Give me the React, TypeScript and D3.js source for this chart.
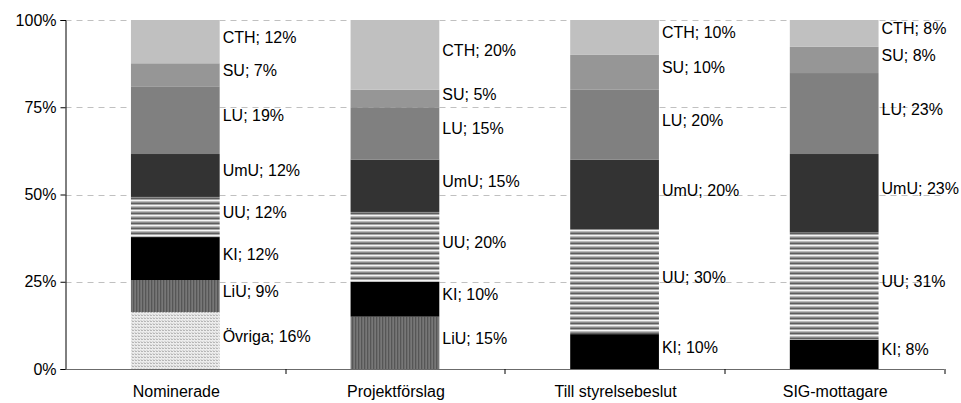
import { useEffect, useRef } from 'react';
import * as d3 from 'd3';

const categories = ['Nominerade', 'Projektförslag', 'Till styrelsebeslut', 'SIG-mottagare'];
// stack order, bottom to top
const keys = ['Övriga', 'LiU', 'KI', 'UU', 'UmU', 'LU', 'SU', 'CTH'];

const ovriga = [16.3, 0, 0, 0];
const liu = [9.2, 15, 0, 0];
const ki = [12.3, 10, 10, 8.4];
const uu = [11.5, 20, 30, 30.7];
const umu = [12.3, 15, 20, 22.5];
const lu = [19.4, 15, 20, 23.2];
const su = [6.6, 5, 10, 7.5];
const cth = [12.4, 20, 10, 7.7];

const yTicks = [0, 0.25, 0.5, 0.75, 1];

export default function App() {
  const svgRef = useRef<SVGSVGElement>(null);

  useEffect(() => {
    document.body.style.margin = '0';
    if (!svgRef.current) return;
    const svg = d3.select(svgRef.current);
    svg.selectAll('*').remove();

    const width = 961;
    const height = 403;
    const margin = { top: 20, right: 17, bottom: 34, left: 65.5 };
    const innerW = width - margin.left - margin.right;
    const innerH = height - margin.top - margin.bottom;
    const font = '"Liberation Sans", Arial, sans-serif';

    const series: Record<string, number[]> = {
      'Övriga': ovriga, LiU: liu, KI: ki, UU: uu, UmU: umu, LU: lu, SU: su, CTH: cth,
    };
    const table = categories.map((c, i) => {
      const row: any = { cat: c };
      keys.forEach((k) => (row[k] = series[k][i]));
      return row;
    });

    const stacked = d3.stack<any>().keys(keys).offset(d3.stackOffsetExpand)(table);

    const x = d3
      .scaleBand()
      .domain(categories)
      .range([0, innerW])
      .paddingInner(0.596)
      .paddingOuter(0.298);
    const step = x.step();

    const y = d3.scaleLinear().domain([0, 1]).range([innerH, 0]);

    // patterns
    const defs = svg.append('defs');
    const pUU = defs.append('pattern').attr('id', 'p-uu').attr('patternUnits', 'userSpaceOnUse')
      .attr('width', 4).attr('height', 5);
    ['#f4f4f4', '#bcbcbc', '#8c8c8c', '#5e5e5e', '#a8a8a8'].forEach((c, i) =>
      pUU.append('rect').attr('x', 0).attr('y', i).attr('width', 4).attr('height', 1).attr('fill', c)
    );
    const pLiU = defs.append('pattern').attr('id', 'p-liu').attr('patternUnits', 'userSpaceOnUse')
      .attr('width', 3).attr('height', 4);
    ['#8e8e8e', '#606060', '#4c4c4c'].forEach((c, i) =>
      pLiU.append('rect').attr('x', i).attr('y', 0).attr('width', 1).attr('height', 4).attr('fill', c)
    );
    const pOv = defs.append('pattern').attr('id', 'p-ov').attr('patternUnits', 'userSpaceOnUse')
      .attr('width', 3).attr('height', 3);
    pOv.append('rect').attr('width', 3).attr('height', 3).attr('fill', '#ececec');
    pOv.append('rect').attr('x', 1).attr('y', 1).attr('width', 1).attr('height', 1).attr('fill', '#828282');
    pOv.append('rect').attr('x', 0).attr('y', 0).attr('width', 1).attr('height', 1).attr('fill', '#c4c4c4');

    const fills: Record<string, string> = {
      'Övriga': 'url(#p-ov)',
      LiU: 'url(#p-liu)',
      KI: '#000000',
      UU: 'url(#p-uu)',
      UmU: '#333333',
      LU: '#808080',
      SU: '#969696',
      CTH: '#c0c0c0',
    };

    const g = svg.append('g').attr('transform', `translate(${margin.left},${margin.top})`);

    // gridlines
    g.append('g')
      .selectAll('line')
      .data(yTicks.filter((t) => t > 0))
      .enter()
      .append('line')
      .attr('x1', 0)
      .attr('x2', innerW)
      .attr('y1', (d) => Math.round(y(d)) + 0.5)
      .attr('y2', (d) => Math.round(y(d)) + 0.5)
      .attr('stroke', '#c0c0c0')
      .attr('stroke-dasharray', '6,5');

    // bars
    stacked.forEach((layer) => {
      g.append('g')
        .selectAll('rect')
        .data(layer)
        .enter()
        .append('rect')
        .attr('x', (d) => x(d.data.cat) || 0)
        .attr('y', (d) => y(d[1]))
        .attr('width', x.bandwidth())
        .attr('height', (d) => Math.max(0, y(d[0]) - y(d[1])))
        .attr('fill', fills[layer.key]);
    });

    // labels
    stacked.forEach((layer) => {
      g.append('g')
        .selectAll('text')
        .data(layer.filter((d) => d.data[layer.key] > 0))
        .enter()
        .append('text')
        .attr('x', (d) => (x(d.data.cat) || 0) + x.bandwidth() + 3)
        .attr('y', (d) => (y(d[0]) + y(d[1])) / 2 + 1)
        .attr('font-family', font)
        .attr('font-size', 16)
        .attr('fill', '#000')
        .text((d) => `${layer.key}; ${Math.round(d.data[layer.key])}%`);
    });

    // y axis
    const yAxis = g
      .append('g')
      .call(
        d3.axisLeft(y).tickValues(yTicks).tickFormat(d3.format('.0%')).tickSize(5).tickPadding(4)
      );
    yAxis.select('.domain').attr('stroke', '#000');
    yAxis.selectAll('.tick line').attr('stroke', '#000');
    yAxis.selectAll('text').attr('font-family', font).attr('font-size', 16).attr('fill', '#000');

    // x axis
    const xAxisG = g.append('g').attr('transform', `translate(0,${innerH})`);
    xAxisG
      .append('line')
      .attr('x1', 0)
      .attr('x2', innerW)
      .attr('y1', 0.5)
      .attr('y2', 0.5)
      .attr('stroke', '#6b6b6b');
    xAxisG
      .selectAll('.cat-tick')
      .data(d3.range(1, categories.length + 1))
      .enter()
      .append('line')
      .attr('x1', (i) => Math.round(i * step) + 0.5)
      .attr('x2', (i) => Math.round(i * step) + 0.5)
      .attr('y1', 0)
      .attr('y2', 5)
      .attr('stroke', '#000');
    xAxisG
      .selectAll('.cat-label')
      .data(categories)
      .enter()
      .append('text')
      .attr('x', (d) => (x(d) || 0) + x.bandwidth() / 2 + 1)
      .attr('y', 28)
      .attr('text-anchor', 'middle')
      .attr('font-family', font)
      .attr('font-size', 16)
      .attr('fill', '#000')
      .text((d) => d);
  }, []);

  return <svg ref={svgRef} width={961} height={403} style={{ display: 'block' }}></svg>;
}
